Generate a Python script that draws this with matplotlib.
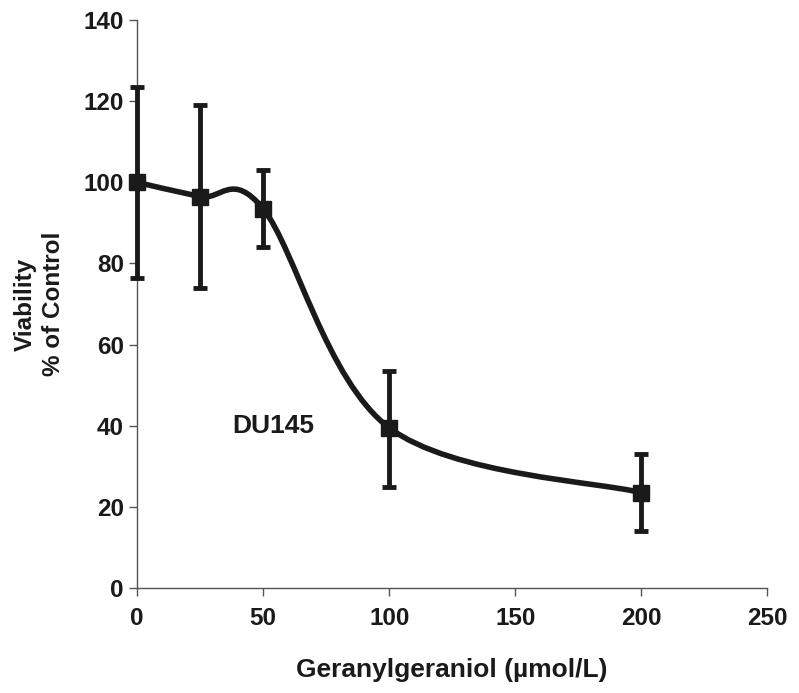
import numpy as np
import matplotlib
matplotlib.use("Agg")
import matplotlib.pyplot as plt
from matplotlib.path import Path
from matplotlib.patches import PathPatch

plt.rcParams['font.family'] = ['Liberation Sans', 'DejaVu Sans']
plt.rcParams['font.weight'] = 'bold'

# data
conc = np.array([0, 25, 50, 100, 200])
viability = np.array([100, 96.5, 93.5, 39.5, 23.5])
err_low = np.array([76.5, 74, 84, 25, 14])
err_high = np.array([123.5, 119, 103, 53.5, 33])

fig = plt.figure(figsize=(7.99, 6.93), dpi=100)
ax = fig.add_axes([0.1715, 0.1515, 0.789, 0.8195])

# smoothed line (Catmull-Rom as cubic Bezier, like a spreadsheet "smoothed line")
pts = np.column_stack([conc, viability]).astype(float)
ext = np.vstack([pts[0], pts, pts[-1]])
verts = [tuple(pts[0])]
codes = [Path.MOVETO]
for i in range(len(pts) - 1):
    p0, p1, p2, p3 = ext[i], ext[i + 1], ext[i + 2], ext[i + 3]
    c1 = p1 + (p2 - p0) / 6
    c2 = p2 - (p3 - p1) / 6
    verts += [tuple(c1), tuple(c2), tuple(p2)]
    codes += [Path.CURVE4] * 3
ax.add_patch(PathPatch(Path(verts, codes), fill=False, lw=4, color='#1a1a1a',
                       zorder=3, clip_on=False))

eb = ax.errorbar(conc, viability, yerr=[viability - err_low, err_high - viability],
                 fmt='s', color='#1a1a1a', ms=11, elinewidth=3.5, capsize=5,
                 capthick=3.5, zorder=4)
for art in eb.get_children():
    art.set_clip_on(False)

ax.set_xlim(0, 250)
ax.set_ylim(0, 140)
ax.set_xticks([0, 50, 100, 150, 200, 250])
ax.set_yticks(np.arange(0, 141, 20))
for s in ['top', 'right']:
    ax.spines[s].set_visible(False)
for s in ['left', 'bottom']:
    ax.spines[s].set_color('#555555')
    ax.spines[s].set_linewidth(1)
ax.tick_params(colors='#555555', labelcolor='#1a1a1a', labelsize=17.5, length=6, width=1)
for lab in ax.get_xticklabels() + ax.get_yticklabels():
    lab.set_fontweight('bold')
ax.tick_params(axis='x', pad=8)

ax.set_xlabel('Geranylgeraniol (\u00b5mol/L)', fontsize=19, fontweight='bold',
              color='#1a1a1a', labelpad=20)
ax.set_ylabel('Viability\n% of Control', fontsize=17.5, fontweight='bold',
              color='#1a1a1a', labelpad=13, linespacing=1.3)
ax.text(54, 40, 'DU145', fontsize=19, fontweight='bold', color='#1a1a1a',
        ha='center', va='center')

fig.savefig('out.png', dpi=100)
